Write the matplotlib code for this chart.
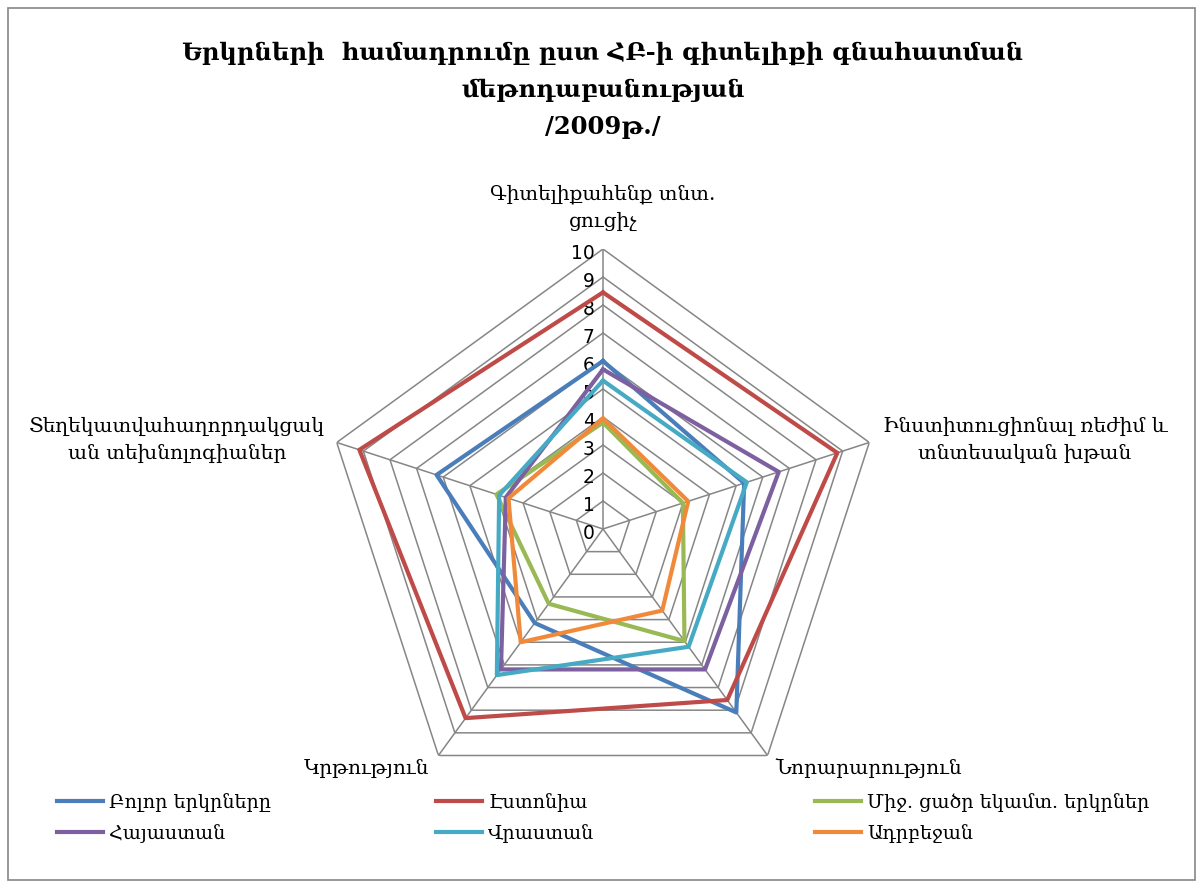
import numpy as np
import matplotlib
matplotlib.use("Agg")
import matplotlib.pyplot as plt
from matplotlib.patches import Rectangle

plt.rcParams['font.family'] = ['DejaVu Serif', 'DejaVu Sans']

# categories, clockwise from the top
categories = ["Գիտելիքահենք տնտ.\nցուցիչ",
              "Ինստիտուցիոնալ ռեժիմ և\nտնտեսական խթան",
              "Նորարարություն",
              "Կրթություն",
              "Տեղեկատվահաղորդակցակ\nան տեխնոլոգիաներ"]

all_countries = [6.0, 5.3, 8.1, 4.15, 6.25]
estonia = [8.45, 8.8, 7.55, 8.35, 9.15]
low_mid_income = [3.8, 3.0, 4.95, 3.3, 4.0]
armenia = [5.7, 6.6, 6.2, 6.2, 3.65]
georgia = [5.3, 5.4, 5.2, 6.45, 3.9]
azerbaijan = [3.95, 3.2, 3.6, 5.0, 3.55]

series_names = ["Բոլոր երկրները", "Էստոնիա", "Միջ. ցածր եկամտ. երկրներ",
                "Հայաստան", "Վրաստան", "Ադրբեջան"]
series = [all_countries, estonia, low_mid_income, armenia, georgia, azerbaijan]
colors = ["#4A7EBB", "#BE4B48", "#98B954", "#7D60A0", "#46AAC5", "#F08A3A"]

ticks = list(range(0, 11))

fig = plt.figure(figsize=(12.03, 8.88), dpi=100)
ax = fig.add_axes([0.2685, 0.089, 0.4655, 0.6306], projection='polar')
ax.set_theta_offset(np.pi / 2)
ax.set_theta_direction(-1)
ax.set_ylim(0, 10)
ax.grid(False)
ax.spines['polar'].set_visible(False)
ax.set_xticks([])
ax.set_yticks([])
ax.patch.set_alpha(0)

n = len(categories)
angles = np.linspace(0, 2 * np.pi, n, endpoint=False)
closed = np.append(angles, angles[0])

# pentagon grid
for t in ticks[1:]:
    ax.plot(closed, [t] * (n + 1), color="#868686", lw=1.1, zorder=1)
for a in angles:
    ax.plot([a, a], [0, 10], color="#868686", lw=1.1, zorder=1)

# radial tick labels along the top spoke
for t in ticks:
    ax.annotate(str(t), (0, t), xytext=(-6, -3), textcoords='offset points',
                ha='right', va='center', fontsize=13.5, family='DejaVu Sans')

for vals, name, c in zip(series, series_names, colors):
    ax.plot(closed, vals + vals[:1], color=c, lw=3.0, label=name, zorder=3)

# category labels
fs = 14.5
fig.text(603 / 1203, 1 - 208 / 888, categories[0], ha='center', va='center',
         fontsize=fs, linespacing=1.5)
fig.text(1025 / 1203, 1 - 440 / 888, categories[1], ha='center', va='center',
         fontsize=fs, linespacing=1.5)
fig.text(869 / 1203, 1 - 768 / 888, categories[2], ha='center', va='center',
         fontsize=fs)
fig.text(366 / 1203, 1 - 768 / 888, categories[3], ha='center', va='center',
         fontsize=fs)
fig.text(177 / 1203, 1 - 440 / 888, categories[4], ha='center', va='center',
         fontsize=fs, linespacing=1.5)

fig.text(603 / 1203, 1 - 90 / 888,
         "Երկրների  համադրումը ըստ ՀԲ-ի գիտելիքի գնահատման\nմեթոդաբանության\n/2009թ./",
         ha='center', va='center', fontsize=17.5, fontweight='bold', linespacing=1.7)

# legend: three columns, two rows
lines = ax.get_lines()[-6:]
col_x = [40, 419, 798]
for i, x in enumerate(col_x):
    leg = fig.legend([lines[i], lines[i + 3]], [series_names[i], series_names[i + 3]],
                     loc='upper left', bbox_to_anchor=(x / 1203, 1 - 776 / 888),
                     frameon=False, fontsize=13.8, handlelength=2.4, handletextpad=0.3,
                     labelspacing=0.62)

fig.patches.append(Rectangle((8 / 1203, 8 / 888), 1187 / 1203, 872 / 888,
                             transform=fig.transFigure, fill=False,
                             edgecolor="#868686", lw=1.2))

fig.savefig("out.png", dpi=100)
